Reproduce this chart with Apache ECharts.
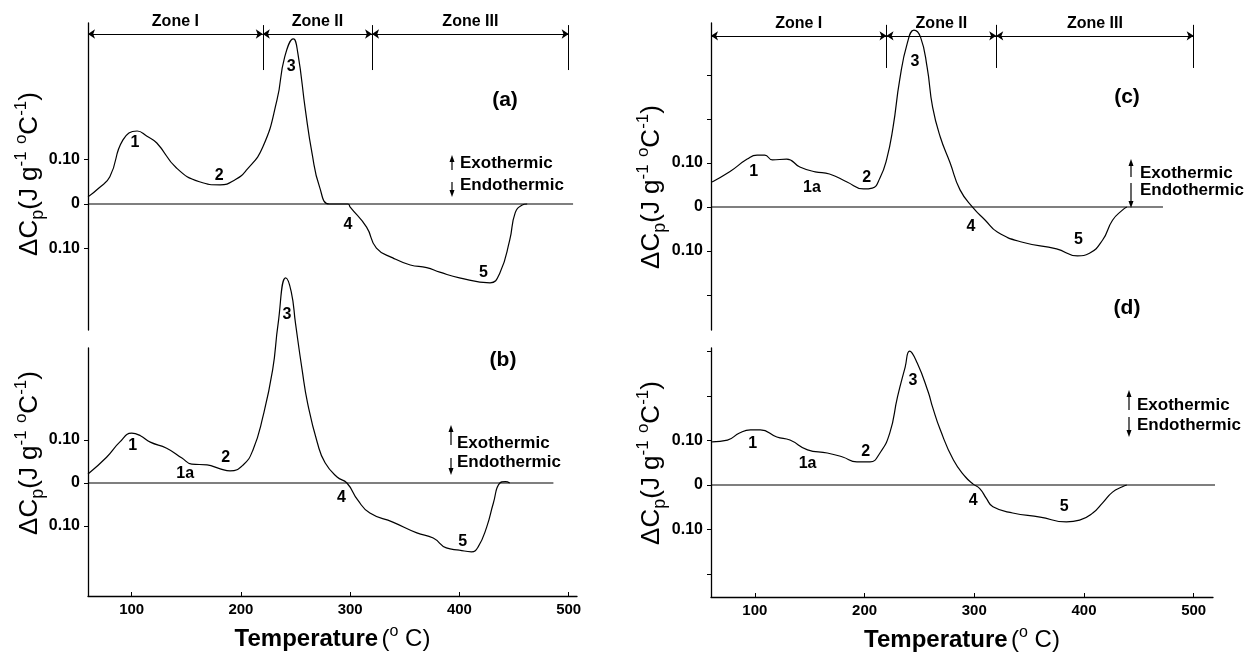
<!DOCTYPE html>
<html>
<head>
<meta charset="utf-8">
<script src="https://cdn.jsdelivr.net/npm/echarts@6/dist/echarts.min.js"></script>
<style>
html, body { margin: 0; background: #fff; }
#chart { width: 1253px; height: 655px; }
</style>
</head>
<body>
<div id="chart"></div>
<script>
// Temperature (°C) vs ΔCp (J g-1 °C-1), four DSC traces
const curveA = [[60,0.016],[70,0.036],[80,0.061],[92,0.144],[105,0.164],[114,0.152],[123,0.137],[141,0.081],[162,0.050],[181,0.043],[195,0.055],[205,0.076],[220,0.128],[233,0.234],[240,0.330],[248,0.371],[252,0.340],[259,0.211],[265,0.115],[272,0.038],[281,0],[298,0],[300,-0.007],[315,-0.052],[324,-0.099],[339,-0.121],[355,-0.137],[370,-0.143],[382,-0.153],[400,-0.166],[428,-0.177],[437,-0.155],[446,-0.081],[451,-0.020],[457,-0.003],[462,0]];
const curveB = [[60,0.021],[77,0.060],[89,0.095],[100,0.116],[108,0.110],[117,0.095],[132,0.081],[146,0.058],[155,0.044],[169,0.042],[181,0.033],[190,0.028],[202,0.042],[211,0.077],[220,0.153],[229,0.263],[234,0.370],[241,0.477],[246,0.445],[250,0.370],[256,0.263],[261,0.186],[270,0.093],[277,0.047],[288,0.014],[297,0],[307,-0.040],[318,-0.070],[339,-0.091],[361,-0.116],[376,-0.128],[388,-0.151],[400,-0.156],[411,-0.160],[417,-0.149],[425,-0.102],[431,-0.047],[437,0],[442,0.003],[446,0]];
const curveC = [[61,0.057],[77,0.080],[93,0.109],[102,0.118],[109,0.118],[116,0.107],[129,0.109],[141,0.091],[155,0.080],[168,0.075],[184,0.057],[199,0.041],[207,0.043],[214,0.066],[220,0.107],[226,0.182],[232,0.289],[239,0.373],[245,0.402],[251,0.386],[257,0.318],[262,0.227],[269,0.159],[278,0.100],[287,0.039],[299,-0.002],[310,-0.030],[321,-0.057],[344,-0.080],[375,-0.095],[394,-0.111],[405,-0.105],[417,-0.075],[426,-0.030],[435,-0.007],[439,0]];
const curveD = [[61,0.097],[75,0.101],[86,0.117],[96,0.124],[105,0.124],[120,0.108],[132,0.101],[148,0.079],[166,0.072],[180,0.063],[193,0.052],[205,0.052],[214,0.072],[223,0.117],[230,0.198],[237,0.265],[241,0.301],[248,0.274],[258,0.209],[262,0.175],[269,0.124],[281,0.056],[292,0.018],[299,0.002],[305,-0.008],[311,-0.030],[317,-0.049],[335,-0.063],[360,-0.072],[384,-0.083],[396,-0.079],[408,-0.063],[417,-0.040],[426,-0.016],[435,-0.004],[439,0]];

// zero baselines: [start, end] temperature
const baseA = [60, 504];
const baseB = [60, 486];
const baseC = [60, 472];
const baseD = [60, 542];

// numbered features on each trace: [T, ΔCp, label]
const peaksA = [[103,0.137,'1'],[180,0.063,'2'],[246,0.308,'3'],[298,-0.047,'4'],[422,-0.153,'5']];
const peaksB = [[101,0.086,'1'],[149,0.023,'1a'],[186,0.058,'2'],[242,0.391,'3'],[292,-0.033,'4'],[403,-0.137,'5']];
const peaksC = [[99,0.080,'1'],[152,0.045,'1a'],[202,0.066,'2'],[246,0.330,'3'],[297,-0.045,'4'],[395,-0.073,'5']];
const peaksD = [[98,0.094,'1'],[148,0.049,'1a'],[201,0.076,'2'],[244,0.234,'3'],[299,-0.034,'4'],[382,-0.049,'5']];

// temperature zones
const zoneEdges = [60, 220, 320, 500];
const zoneNames = ['Zone I', 'Zone II', 'Zone III'];

const tempTicks = [100, 200, 300, 400, 500];
const yLabelValues = [-0.1, 0, 0.1];
const yTicksLeft = [-0.1, 0, 0.1];
const yTicksRight = [-0.2, -0.1, 0, 0.1, 0.2, 0.3];

const FONT = '"Liberation Sans", Arial, Helvetica, sans-serif';
const INK = '#000';

const chart = echarts.init(document.getElementById('chart'));

function makeX(gridIndex, max, show) {
  return {
    type: 'value', gridIndex: gridIndex, min: 60, max: max, show: show,
    axisLine: { show: true, onZero: false, lineStyle: { color: INK, width: 1.3 } },
    axisTick: { show: true, inside: true, length: 4, customValues: tempTicks, lineStyle: { color: INK } },
    axisLabel: { customValues: tempTicks, margin: 6, color: INK, fontSize: 15, fontWeight: 'bold', fontFamily: FONT },
    splitLine: { show: false },
    name: show ? '{b|Temperature} {n|(}{s|o}{n| C)}' : '',
    nameLocation: 'middle', nameGap: 28,
    nameTextStyle: {
      color: INK, fontFamily: FONT,
      rich: {
        b: { fontSize: 24, fontWeight: 'bold', fontFamily: FONT, color: INK, lineHeight: 30 },
        n: { fontSize: 24, fontFamily: FONT, color: INK, lineHeight: 30 },
        s: { fontSize: 16, fontFamily: FONT, color: INK, verticalAlign: 'top', lineHeight: 16 }
      }
    }
  };
}

function makeY(gridIndex, min, max, ticks) {
  return {
    type: 'value', gridIndex: gridIndex, min: min, max: max,
    axisLine: { show: true, onZero: false, lineStyle: { color: INK, width: 1.3 } },
    axisTick: { show: true, length: 4, customValues: ticks, lineStyle: { color: INK } },
    axisLabel: {
      customValues: yLabelValues, margin: 8, color: INK, fontSize: 16, fontWeight: 'bold', fontFamily: FONT,
      formatter: function (v) { return v === 0 ? '0' : Math.abs(v).toFixed(2); }
    },
    splitLine: { show: false }
  };
}

function curve(idx, data) {
  return {
    type: 'line', xAxisIndex: idx, yAxisIndex: idx, data: data,
    showSymbol: false, smooth: 0.5, clip: false,
    lineStyle: { color: INK, width: 1.2 }, silent: true
  };
}

function zoneMarks(yArrow, yTop, yBottom) {
  const data = [];
  for (let i = 0; i < zoneNames.length; i++) {
    data.push([
      { coord: [zoneEdges[i], yArrow], name: zoneNames[i] },
      { coord: [zoneEdges[i + 1], yArrow] }
    ]);
  }
  for (let i = 1; i < zoneEdges.length; i++) {
    data.push([
      { coord: [zoneEdges[i], yTop], symbol: 'none', label: { show: false } },
      { coord: [zoneEdges[i], yBottom], symbol: 'none' }
    ]);
  }
  return {
    silent: true, animation: false,
    symbol: ['arrow', 'arrow'], symbolSize: 7,
    lineStyle: { color: INK, width: 1, type: 'solid' },
    label: {
      show: true, position: 'insideMiddleTop', distance: 4,
      color: INK, fontSize: 16, fontWeight: 'bold', fontFamily: FONT,
      formatter: function (p) { return p.name; }
    },
    emphasis: { disabled: true },
    data: data
  };
}

function baseline(idx, range, marks) {
  const s = {
    type: 'line', xAxisIndex: idx, yAxisIndex: idx,
    data: [[range[0], 0], [range[1], 0]],
    showSymbol: false, clip: false, silent: true,
    lineStyle: { color: INK, width: 1.1 }
  };
  if (marks) s.markLine = marks;
  return s;
}

// feature numbers drawn as text at data coordinates
function peaks(idx, data) {
  return {
    type: 'custom', xAxisIndex: idx, yAxisIndex: idx, data: data, clip: false, silent: true,
    renderItem: function (params, api) {
      const pt = api.coord([api.value(0), api.value(1)]);
      return {
        type: 'text', x: pt[0], y: pt[1],
        style: {
          text: data[params.dataIndex][2], fill: INK, fontSize: 16, fontWeight: 'bold', fontFamily: FONT,
          align: 'center', verticalAlign: 'middle'
        }
      };
    }
  };
}

function vArrow(x, yTail, yTip) {
  const dir = yTip < yTail ? -1 : 1;
  return [
    { type: 'line', shape: { x1: x, y1: yTail, x2: x, y2: yTip - dir * 4 }, style: { stroke: INK, lineWidth: 1.2 } },
    { type: 'polygon', shape: { points: [[x, yTip], [x - 2.5, yTip - dir * 7], [x + 2.5, yTip - dir * 7]] }, style: { fill: INK } }
  ];
}

function label(x, y, text, size, align) {
  return {
    type: 'text', x: x, y: y,
    style: { text: text, fill: INK, fontSize: size, fontWeight: 'bold', fontFamily: FONT, align: align || 'center', verticalAlign: 'middle' }
  };
}

function heatLegend(ax, upTail, upTip, dnTail, dnTip, tx, y1, y2) {
  return vArrow(ax, upTail, upTip).concat(vArrow(ax, dnTail, dnTip), [
    label(tx, y1, 'Exothermic', 17, 'left'),
    label(tx, y2, 'Endothermic', 17, 'left')
  ]);
}

function yTitle(x, y) {
  return {
    type: 'text', x: x, y: y, rotation: Math.PI / 2,
    style: {
      text: '{m|ΔC}{s|p}{m|(J g}{u|-1}{m| }{u|o}{m|C}{u|-1}{m|)}',
      align: 'center', verticalAlign: 'middle',
      rich: {
        m: { fontSize: 26, fontFamily: FONT, fill: INK, lineHeight: 34 },
        s: { fontSize: 18, fontFamily: FONT, fill: INK, lineHeight: 14, verticalAlign: 'bottom' },
        u: { fontSize: 17, fontFamily: FONT, fill: INK, lineHeight: 14, verticalAlign: 'top' }
      }
    }
  };
}

const graphics = [
  label(505, 100, '(a)', 21),
  label(503, 360, '(b)', 21),
  label(1127, 97, '(c)', 21),
  label(1127, 308, '(d)', 21),
  yTitle(30, 174), yTitle(30, 453), yTitle(652, 187), yTitle(652, 463)
].concat(
  heatLegend(452, 170, 155, 182, 197, 460, 163, 185),
  heatLegend(451, 445, 425, 458, 475, 457, 443, 462),
  heatLegend(1131, 177, 159, 183, 208, 1140, 173, 190),
  heatLegend(1129, 410, 390, 417, 437, 1137, 405, 425)
);

chart.setOption({
  animation: false,
  textStyle: { fontFamily: FONT, color: INK },
  grid: [
    { left: 88, width: 489, top: 23, height: 307, outerBoundsMode: 'none' },
    { left: 88, width: 489, top: 348, height: 248, outerBoundsMode: 'none' },
    { left: 711, width: 502, top: 23, height: 307, outerBoundsMode: 'none' },
    { left: 711, width: 502, top: 348, height: 249, outerBoundsMode: 'none' }
  ],
  xAxis: [makeX(0, 507.6, false), makeX(1, 507.6, true), makeX(2, 517.6, false), makeX(3, 517.6, true)],
  yAxis: [
    makeY(0, -0.2831, 0.4067, yTicksLeft),
    makeY(1, -0.2628, 0.3140, yTicksLeft),
    makeY(2, -0.2795, 0.4182, yTicksRight),
    makeY(3, -0.2517, 0.3079, yTicksRight)
  ],
  series: [
    baseline(0, baseA, zoneMarks(0.382, 0.402, 0.301)),
    baseline(1, baseB),
    baseline(2, baseC, zoneMarks(0.389, 0.414, 0.316)),
    baseline(3, baseD),
    curve(0, curveA), curve(1, curveB), curve(2, curveC), curve(3, curveD),
    peaks(0, peaksA), peaks(1, peaksB), peaks(2, peaksC), peaks(3, peaksD)
  ],
  graphic: graphics
});
</script>
</body>
</html>
